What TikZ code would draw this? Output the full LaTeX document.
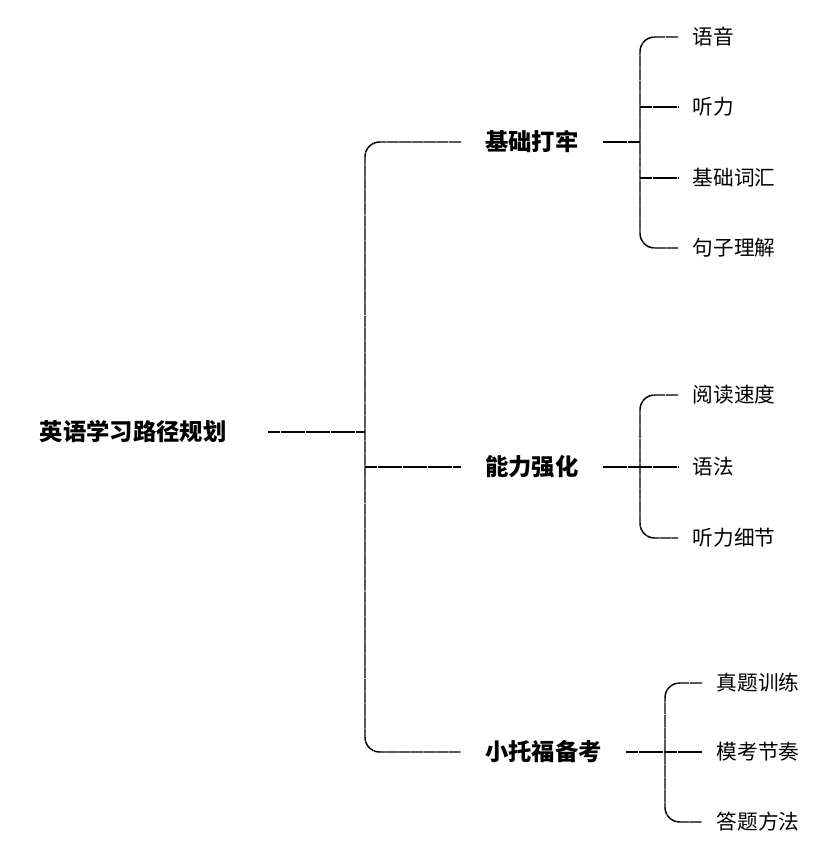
\documentclass[tikz,border=0pt]{standalone}
\usepackage{fontspec}
\setmainfont{Noto Sans CJK SC}
\usetikzlibrary{positioning}

\begin{document}
\begin{tikzpicture}[x=0.75pt, y=-0.75pt]
            \tikzset{topic/.style = {font=\fontsize{17.5}{20}\selectfont\bfseries, inner xsep=18pt, inner ysep=2pt},
                     leaf/.style = {font=\fontsize{15.5}{18}\selectfont, anchor=west, inner xsep=11pt, inner ysep=2pt},
                     link/.style = {line width=1.1pt, dash pattern=on 9pt off 0.4pt},
                     elbow/.style = {link, rounded corners=11pt}}

            \useasboundingbox (0, 0) rectangle (833, 859);

            {
                \node[topic, anchor=east, inner xsep=31pt] (root) at (268, 432) {英语学习路径规划};

                \node[topic, anchor=west] (base) at (461, 142) {基础打牢};
                \node[topic, anchor=west] (skill) at (461, 467) {能力强化};
                \node[topic, anchor=west] (exam) at (461, 752) {小托福备考};

                \node[leaf] (voice) at (678, 37) {语音};
                \node[leaf] (listen) at (678, 107) {听力};
                \node[leaf] (words) at (678, 178) {基础词汇};
                \node[leaf] (sentence) at (678, 248) {句子理解};

                \node[leaf] (speed) at (678, 395) {阅读速度};
                \node[leaf] (grammar) at (678, 467) {语法};
                \node[leaf] (detail) at (678, 538) {听力细节};

                \node[leaf] (papers) at (702, 683) {真题训练};
                \node[leaf] (mock) at (702, 752) {模考节奏};
                \node[leaf] (method) at (702, 822) {答题方法};

                \coordinate (trunk) at (365, 432);
                \coordinate (trunkmid) at (365, 467);
                \coordinate (basej) at (640, 142);
                \coordinate (skillj) at (640, 467);
                \coordinate (examj) at (665, 752);
            }

            % main trunk
            \draw[link] (root.east) -- (trunk);
            \draw[elbow] (base.west) -| (trunkmid) |- (exam.west);
            \draw[link] (trunkmid) -- (skill.west);

            % first branch
            \draw[link] (base.east) -- (basej);
            \draw[elbow] (voice.west) -| (basej) |- (sentence.west);
            \draw[link] (basej |- listen) -- (listen.west);
            \draw[link] (basej |- words) -- (words.west);

            % second branch
            \draw[link] (skill.east) -- (skillj);
            \draw[elbow] (speed.west) -| (skillj) |- (detail.west);
            \draw[link] (skillj) -- (grammar.west);

            % third branch
            \draw[link] (exam.east) -- (examj);
            \draw[elbow] (papers.west) -| (examj) |- (method.west);
            \draw[link] (examj) -- (mock.west);

        \end{tikzpicture}
\end{document}
